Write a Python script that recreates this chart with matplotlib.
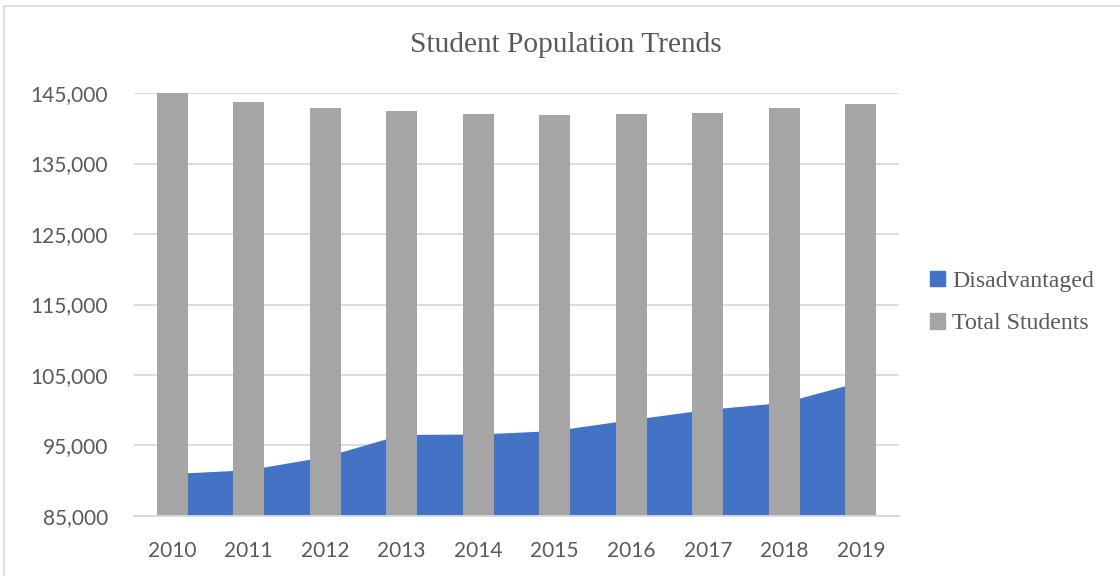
import numpy as np
import matplotlib.pyplot as plt
from matplotlib.patches import Patch, Rectangle
from matplotlib.ticker import FuncFormatter

years = ['2010', '2011', '2012', '2013', '2014',
         '2015', '2016', '2017', '2018', '2019']
disadvantaged = [90950, 91490, 93350, 96500, 96550,
                 97050, 98600, 100050, 101050, 104000]
total_students = [145000, 143720, 142830, 142450, 141980,
                  141930, 141980, 142120, 142880, 143400]

blue = '#4472C4'
grey = '#A5A5A5'
text_col = '#595959'
grid_col = '#D9D9D9'

serif = ['Liberation Serif', 'DejaVu Serif']
sans = ['Lato', 'DejaVu Sans']

fig = plt.figure(figsize=(11.2, 5.76), dpi=100)
ax = fig.add_axes([0.1196, 0.1042, 0.6831, 0.7343])

x = np.arange(len(years))
# area sits behind the columns, points at the category centres
ax.fill_between(x, disadvantaged, 0, color=blue, lw=0, zorder=2)
ax.bar(x, total_students, width=0.4, color=grey, zorder=3)

ax.set_xlim(-0.5, len(years) - 0.5)
ax.set_ylim(85000, 145000)
ax.set_yticks(np.arange(85000, 145001, 10000))
ax.yaxis.set_major_formatter(FuncFormatter(lambda v, p: '{:,.0f}'.format(v)))
ax.set_xticks(x)
ax.set_xticklabels(years)

ax.grid(axis='y', color=grid_col, lw=1.3, zorder=1)
ax.set_axisbelow(True)
for s in ['top', 'right', 'left']:
    ax.spines[s].set_visible(False)
ax.spines['bottom'].set_color(grid_col)
ax.spines['bottom'].set_linewidth(1.3)
ax.spines['bottom'].set_zorder(4)
ax.tick_params(length=0, colors=text_col, labelsize=15)
ax.tick_params(axis='y', pad=18.5)
ax.tick_params(axis='x', pad=18)
for lab in ax.get_xticklabels() + ax.get_yticklabels():
    lab.set_family(sans)

fig.text(0.505, 0.922, 'Student Population Trends', ha='center', va='center',
         fontsize=21.2, color=text_col, family=serif)

handles = [Patch(color=blue, label='Disadvantaged'),
           Patch(color=grey, label='Total Students')]
fig.legend(handles=handles, loc='center left', bbox_to_anchor=(0.8115, 0.4745),
           frameon=False, handlelength=0.6, handleheight=0.6,
           handletextpad=0.3, labelspacing=0.9,
           prop={'family': serif, 'size': 17.2}, labelcolor=text_col)

# thin outline around the chart area
fig.patches.append(Rectangle((4 / 1120, -0.01), 1.0, 1.0 - 6 / 576 + 0.01,
                             transform=fig.transFigure, fill=False,
                             edgecolor=grid_col, lw=1.2))

fig.savefig('out.png', dpi=100)
